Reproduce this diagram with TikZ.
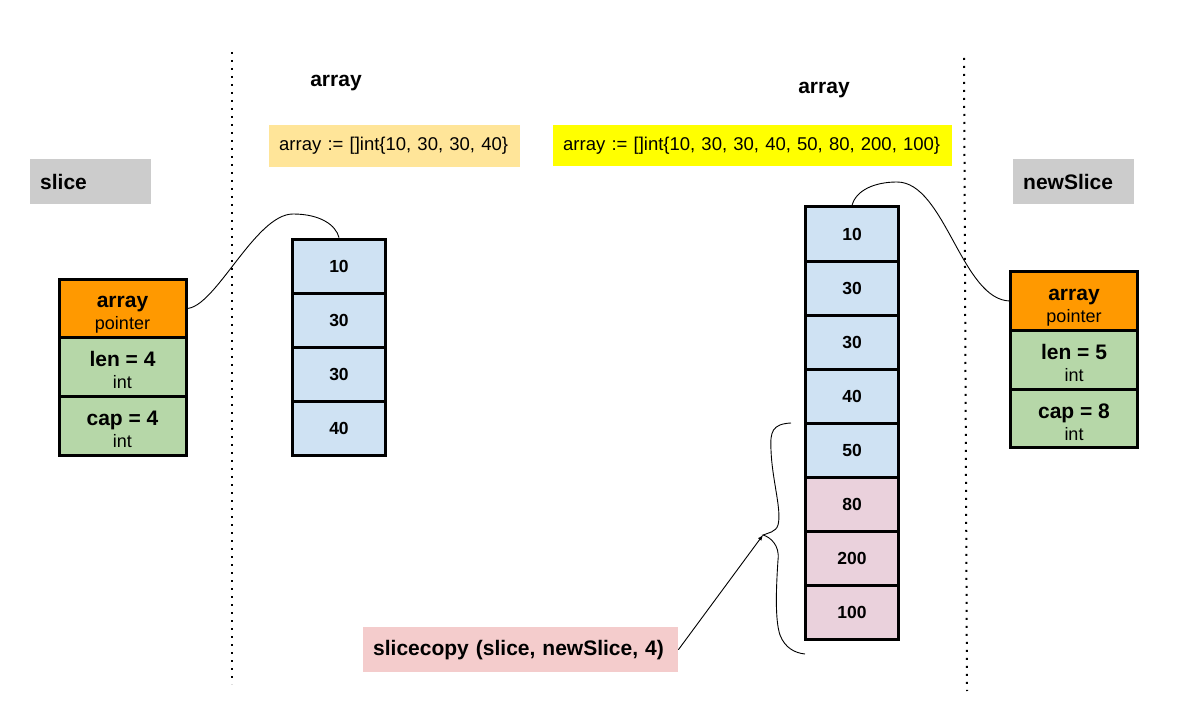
\documentclass[tikz,border=0pt]{standalone}
\usepackage{fontspec}
\setmainfont{Liberation Sans}
\usetikzlibrary{positioning}

\definecolor{lblgray}{HTML}{CCCCCC}
\definecolor{ptrorange}{HTML}{FF9900}
\definecolor{fldgreen}{HTML}{B6D7A8}
\definecolor{cellblue}{HTML}{CFE2F3}
\definecolor{cellpink}{HTML}{EAD1DC}
\definecolor{copypink}{HTML}{F4CCCC}
\definecolor{codeorange}{HTML}{FFE599}
\definecolor{codeyellow}{HTML}{FFFF00}

% field text: bold name over its type
\newcommand\fieldtxt[2]{\rule{0pt}{21pt}#1\\[-3pt]{\fontsize{18}{20}\selectfont\mdseries #2}}

\begin{document}
\begin{tikzpicture}[
		x=1pt, y=-1pt,
		big/.style={font=\fontsize{21}{25}\selectfont\bfseries},
		tag/.style={
			big,
			anchor=north west,
			inner xsep=10pt,
			inner ysep=0pt,
			align=left,
		},
		code/.style={
			tag,
			font=\fontsize{18.5}{22}\selectfont,
		},
		field/.style={
			draw,
			line width=3pt,
			outer sep=0pt,
			minimum width=127pt,
			minimum height=58.8pt,
			inner sep=0pt,
			text depth=0pt,
			align=center,
			big,
		},
		cell/.style={
			draw,
			line width=3pt,
			fill=cellblue,
			minimum width=93pt,
			minimum height=54.2pt,
			inner sep=0pt,
			font=\fontsize{17.5}{20}\selectfont\bfseries,
		},
		dotline/.style={
			line width=2pt,
			dash pattern=on 2pt off 6pt,
		},
		link/.style={line width=0.9pt},
		node distance=0pt,
		>=latex
		]
		\useasboundingbox (0,0) rectangle (1179,727);
		% Draw the dotted separators
		\draw[dotline] (232,52) -- (232,684);
		\draw[dotline] (964,58) -- (967,691);
		% Draw the labels
		\node[tag, fill=lblgray, text width=101pt, minimum height=45pt] (slicelbl) at (30,159) {slice};
		\node[tag, fill=lblgray, text width=101pt, minimum height=45pt] (newlbl) at (1013,159) {newSlice};
		\node[big, anchor=base] (titleA) at (336,87) {array};
		\node[big, anchor=base] (titleB) at (824,94) {array};
		\node[code, fill=codeorange, text width=231pt, minimum height=42pt] (codeA) at (269,125) {array := []int\{10, 30, 30, 40\}};
		\node[code, fill=codeyellow, text width=379pt, minimum height=41pt] (codeB) at (553,125) {array := []int\{10, 30, 30, 40, 50, 80, 200, 100\}};
		\node[tag, fill=copypink, text width=295pt, minimum height=45pt] (copylbl) at (363,627) {slicecopy (slice, newSlice, 4)};
		% Draw the slice header
		\node[field, fill=ptrorange] (oldptr) at (122.5,308.5) {\fieldtxt{array}{pointer}};
		\node[field, fill=fldgreen, below=of oldptr] (oldlen) {\fieldtxt{len = 4}{int}};
		\node[field, fill=fldgreen, below=of oldlen] (oldcap) {\fieldtxt{cap = 4}{int}};
		% Draw the newSlice header
		\node[field, fill=ptrorange] (newptr) at (1074,301) {\fieldtxt{array}{pointer}};
		\node[field, fill=fldgreen, below=of newptr] (newlen) {\fieldtxt{len = 5}{int}};
		\node[field, fill=fldgreen, below=of newlen] (newcap) {\fieldtxt{cap = 8}{int}};
		% Draw the backing arrays
		\foreach \i/\v in {1/10,2/30,3/30,4/40} {
			\node[cell] (arrA\i) at (339,212+54.2*\i) {\v};
		}
		\foreach \i/\v/\c in {1/10/cellblue,2/30/cellblue,3/30/cellblue,4/40/cellblue,5/50/cellblue,6/80/cellpink,7/200/cellpink,8/100/cellpink} {
			\node[cell, fill=\c] (arrB\i) at (852,180+54.1*\i) {\v};
		}
		% Draw the pointers
		\draw[link] (oldptr.east) .. controls (215,309) and (255,214) .. (293,214)
			.. controls (320,214) and (336,225) .. (arrA1.north);
		\draw[link] (arrB1.north) .. controls (856,190) and (875,182) .. (897,182)
			.. controls (945,182) and (962,301) .. (newptr.west);
		% Draw the brace and the copy arrow
		\coordinate (bracetip) at (763,535);
		\draw[link] (791,423) .. controls (772,424) and (770,432) .. (771,450)
			.. controls (772,480) and (782,510) .. (778,525)
			.. controls (776,532) and (768,533) .. (bracetip)
			.. controls (770,537) and (780,545) .. (778,560)
			.. controls (776,590) and (775,620) .. (780,635)
			.. controls (785,648) and (795,653) .. (805,654);
		\draw[link,->] (copylbl.east) -- (bracetip);
\end{tikzpicture}
\end{document}
